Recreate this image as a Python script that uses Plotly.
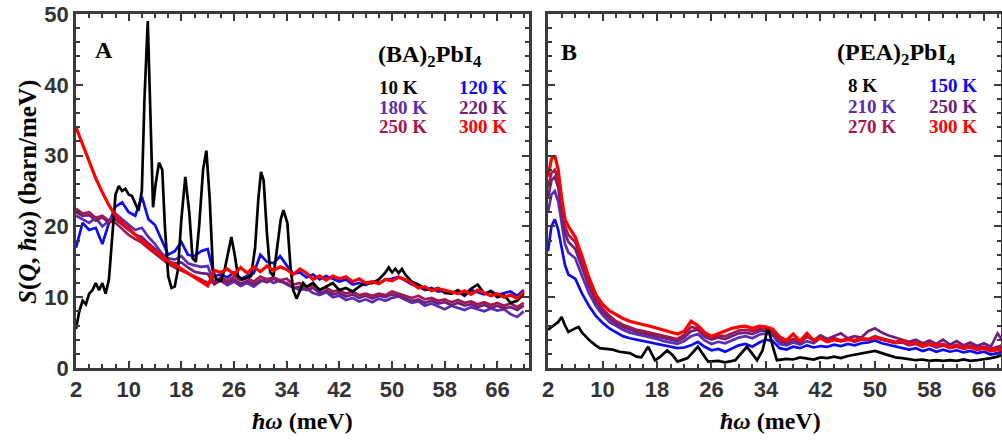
import plotly.graph_objects as go

# ---------------- Panel A: (BA)2PbI4 ----------------
xA = list(range(2, 71))

# 10 K has sharp peaks -> its own (non-uniform) energy grid
xA_10K = [2, 2.5, 3, 3.5, 4, 4.5, 5, 5.5, 6, 6.5, 7, 7.5, 8, 8.5, 9, 9.5, 10, 10.5, 11, 11.5,
          12, 12.4, 12.9, 13.3, 13.7, 14.1, 14.6, 15.1, 15.5, 16, 16.5, 17, 17.5, 18, 18.6,
          19.2, 19.7, 20.2, 20.7, 21.3, 21.8, 22.3, 22.8, 23.3, 24, 24.6, 25.2, 25.6, 26.1,
          26.6, 27.2, 28, 28.6, 29.2, 29.7, 30.1, 30.5, 31, 31.5, 32, 32.6, 33.1, 33.5, 34.1,
          34.6, 35, 35.5, 36.5, 37, 38, 39, 40, 41, 42, 43, 44, 45, 46, 47, 48, 49, 49.5, 50,
          50.5, 51, 51.5, 52, 53, 54, 55, 56, 57, 58, 59, 60, 61, 62, 63, 64, 65, 66, 67, 68,
          69, 70]
A_10K = [5.5, 8, 9.5, 9, 10.5, 11, 12, 11, 12, 10.5, 12.5, 19, 24.5, 25.7, 25, 25.3, 24.5, 24.3,
         23.2, 22.2, 25, 38, 49, 36, 22.7, 26, 29, 28, 20, 13, 11.3, 11.5, 14, 21, 27, 22, 15.5,
         15, 20, 28, 30.7, 24, 13.8, 12.5, 12.3, 14, 16.8, 18.5, 16, 13, 12.5, 12.8, 13, 17, 24,
         27.7, 26.5, 19, 13.5, 13, 17, 21, 22.3, 20.5, 14, 11, 9.8, 12, 11.5, 12, 11, 11.5, 12,
         11, 11.3, 10.8, 11.5, 12, 12, 12.5, 13.5, 14.2, 13.5, 14, 13.4, 14, 13.2, 12.2, 11.8,
         11.2, 11, 11.3, 10.6, 10.5, 11, 10.3, 11.2, 11.8, 10.5, 10.8, 10, 10.3, 9.2, 9.5, 10.5]

A_120K = [17, 20.5, 19.5, 19.8, 17.5, 20.5, 22.8, 23.4, 22, 21.5, 24.2, 21, 20.2, 18, 16, 16.5,
          17.8, 16, 15.8, 16.5, 16.8, 13, 13.2, 12.8, 13.5, 12.6, 13, 13.4, 16, 15, 14.8, 15.8,
          14.5, 13.3, 13.5, 12.8, 13.2, 12.5, 13, 12.6, 12.2, 12.5, 11.8, 12, 11.7, 12.2, 12,
          12.5, 12.6, 12.9, 12.4, 11.8, 11.5, 11, 11.3, 10.8, 11, 10.5, 10.8, 10.2, 11, 10.7,
          10.4, 10.9, 10.3, 10.6, 10.8, 10.2, 11]
A_180K = [21.5, 21, 20.5, 21.2, 20, 20.8, 21.8, 21, 20.3, 19.5, 19.8, 18.5, 17.5, 16.2, 15.5,
          15.3, 15.8, 14.8, 14.5, 14.3, 14.4, 12, 12.3, 11.7, 12.2, 11.6, 12, 11.5, 12.2, 12.6,
          12, 12.4, 11.8, 11.4, 11, 11.2, 10.6, 10.3, 10.7, 10, 10.2, 9.6, 9.9, 9.4, 9.7, 9.3,
          9.8, 9.5, 9.9, 10.1, 9.6, 9.2, 9.4, 8.8, 9.1, 8.7, 8.3, 8.8, 8.5, 8.2, 8.6, 8.3, 8.0,
          8.4, 8.1, 8.3, 7.6, 7.2, 8]
A_220K = [22, 21.5, 21.6, 20.8, 21.3, 20.5, 21, 20.2, 19.5, 18.8, 18.5, 17.6, 16.8, 15.8, 15,
          14.8, 14.9, 14.2, 13.6, 13.4, 13.3, 11.8, 12.4, 12, 12.5, 11.9, 12.3, 11.8, 12.4, 12.1,
          12.6, 12.2, 12, 11.3, 11.5, 11, 11.3, 10.6, 10.9, 10.4, 10.6, 10.1, 10.4, 9.9, 10.2,
          9.8, 10.2, 10, 10.4, 10.2, 9.8, 9.5, 9.7, 9.2, 9.5, 9.1, 9.3, 8.9, 9.2, 8.8, 9.0, 8.6,
          8.9, 8.5, 8.8, 8.4, 8.6, 8.2, 8.8]
A_250K = [22.5, 21.8, 22, 21.2, 21.5, 20.8, 20.5, 19.6, 18.8, 18.2, 17.7, 16.9, 16.2, 15.4, 14.7,
          14.2, 13.8, 13.3, 12.9, 12.5, 12, 12.2, 12.8, 12.3, 12.9, 12.4, 12.7, 12.2, 12.9, 12.5,
          12.8, 12.4, 12.6, 11.8, 12, 11.4, 11.7, 11.1, 11.3, 10.8, 11, 10.5, 10.8, 10.3, 10.5,
          10.2, 10.5, 10.3, 10.8, 10.5, 10.2, 9.9, 10.2, 9.7, 9.9, 9.5, 9.7, 9.3, 9.6, 9.2, 9.4,
          9.0, 9.3, 8.9, 9.2, 8.8, 9.1, 8.6, 9.2]
A_300K = [34, 31.5, 29, 26.8, 24.8, 23, 21.5, 20.5, 19.8, 18.8, 18, 17.2, 16.5, 15.8, 15.1, 14.6,
          14, 13.4, 12.8, 12.3, 11.6, 13.8, 13.5, 14, 13.2, 14.2, 13.4, 14.3, 13.6, 14.4, 13.8,
          14.3, 13.9, 13.2, 14, 13.4, 12.5, 13, 12.4, 13, 12.6, 12.9, 12.2, 12.6, 12, 12.2, 11.9,
          12.5, 12.3, 12.8, 12.5, 12, 11.3, 11.5, 10.9, 11.2, 11, 10.7, 10.5, 10.9, 10.4, 11,
          10.6, 10.2, 10.5, 10, 10.3, 9.8, 10.8]

# ---------------- Panel B: (PEA)2PbI4 ----------------
xB = [2, 2.5, 3, 3.5, 4, 4.5] + list(range(5, 70))

xB_8K = [2, 2.5, 3, 3.5, 4, 4.5, 5, 5.5, 6, 6.5, 7, 7.5, 8, 9, 9.6, 10.5, 11.5, 12.5, 13.5, 14,
         15, 15.7, 16.7, 17.7, 18.5, 19.5, 20.3, 21, 22.5, 23.5, 24, 24.7, 25.5, 27, 28, 29.5,
         30.5, 31.2, 32, 32.7, 33.5, 34.3, 35, 35.6, 37, 38, 39, 40, 41, 42, 43, 44, 45, 46, 47,
         48, 49, 50, 51, 52, 53, 54, 55, 56, 57, 58, 59, 60, 61, 62, 63, 64, 65, 66, 67, 68, 69]
B_8K = [5.4, 5.8, 6.2, 6.5, 7.2, 6, 5.1, 5.4, 5.6, 5.8, 5, 4.5, 4, 3.2, 2.8, 2.7, 2.6, 2.3, 2.2,
        2.1, 1.6, 1.5, 3, 1.1, 1.6, 2.5, 1.8, 0.9, 1.4, 2.4, 3, 2, 0.9, 1, 0.8, 1.1, 2.2, 3, 2,
        1.1, 2.5, 5.8, 3, 1.1, 1.3, 1.2, 1.5, 1.3, 1.2, 1.5, 1.4, 1.6, 1.4, 1.7, 1.9, 2.1, 2.2,
        2.4, 2.1, 1.8, 1.5, 1.4, 1.2, 1.1, 1.2, 1, 1.1, 1, 1.1, 1, 1.2, 1, 1.1, 1.2, 1.4, 1.6, 2]
B_150K = [16.5, 20, 21, 19.5, 17, 14.5, 13.2, 12.6, 10.5, 8.8, 7.4, 6.4, 5.6, 5, 4.5, 4.2, 4,
          3.8, 3.6, 3.4, 3.1, 3, 2.8, 2.9, 3.2, 3.7, 3, 2.5, 2.7, 2.3, 2.8, 3.2, 3.4, 3, 3.6, 4,
          3.8, 2.8, 2.6, 3, 2.8, 3.2, 2.9, 3.1, 3, 3.3, 3.1, 3.4, 3.2, 3.5, 3.6, 3.9, 3.5, 3.3,
          3, 2.9, 2.6, 2.8, 2.4, 2.7, 2.3, 2.6, 2.3, 2.5, 2.2, 2.4, 2.1, 2.3, 1.9, 2.1, 2.4]
B_210K = [22, 24.5, 25, 23.5, 20.5, 17.5, 16.3, 15.5, 13, 10.6, 8.8, 7.5, 6.5, 5.9, 5.4, 5, 4.8,
          4.6, 4.4, 4.1, 3.8, 3.6, 3.4, 3.8, 4.5, 4.8, 3.9, 3.4, 3.7, 3.5, 3.9, 4.3, 4.5, 4.2,
          4.7, 4.9, 4.6, 3.4, 3.2, 3.6, 3.3, 3.8, 3.5, 4.2, 3.7, 4, 3.8, 4.1, 3.7, 4, 3.9, 4.3, 4,
          3.7, 3.5, 3.6, 3.2, 3.4, 3, 3.3, 2.9, 3.2, 2.8, 3, 2.7, 2.9, 2.6, 2.8, 2.5, 2.7, 3]
B_250K = [24, 26.5, 27, 25.5, 22, 19, 17.8, 16.8, 14.2, 11.5, 9.4, 8, 7, 6.3, 5.8, 5.4, 5.1, 4.9,
          4.7, 4.5, 4.2, 4, 3.8, 4.3, 5.2, 5.4, 4.4, 4, 4.3, 4.1, 4.5, 4.9, 5, 4.8, 5.2, 5.3, 5,
          3.8, 3.5, 4, 3.6, 4.4, 3.9, 4.6, 4.1, 4.5, 4.9, 4.2, 4.5, 4.3, 5.2, 5.6, 5, 4.6, 4.3,
          4.1, 3.7, 4, 3.5, 3.9, 3.4, 4, 3.3, 3.8, 3.2, 3.6, 3.1, 3.5, 3, 4.9, 3.5]
B_270K = [25.5, 27.5, 28, 26.5, 23, 20, 18.8, 17.8, 15, 12, 9.8, 8.4, 7.4, 6.6, 6.1, 5.7, 5.4,
          5.2, 5, 4.8, 4.6, 4.3, 4.1, 4.7, 5.8, 5.6, 4.7, 4.3, 4.6, 4.5, 4.9, 5.3, 5.4, 5.2, 5.5,
          5.6, 5.3, 4, 3.7, 4.1, 3.8, 4.5, 3.9, 4.3, 3.9, 4.2, 3.9, 4.1, 3.9, 4.2, 4.1, 4.5, 4.2,
          4, 3.7, 3.9, 3.4, 3.6, 3.3, 3.5, 3.1, 3.4, 3, 3.3, 2.9, 3.2, 2.8, 3, 2.7, 3, 3.3]
B_300K = [27, 29.5, 30, 28, 24, 21, 20, 18.5, 15.8, 12.8, 10.4, 9, 8.1, 7.5, 7, 6.6, 6.3, 6.1,
          5.9, 5.6, 5.3, 5, 4.8, 5.2, 6.6, 6, 5, 4.5, 4.9, 5.2, 5.6, 5.8, 5.9, 5.6, 5.9, 5.8, 5.5,
          4.4, 3.9, 4.8, 3.8, 4.9, 3.9, 4.2, 3.7, 4, 3.8, 4, 3.9, 4.1, 4, 4.3, 4.1, 3.9, 3.6, 3.8,
          3.4, 3.5, 3.1, 3.4, 3.2, 3.3, 2.9, 3.1, 2.8, 3, 2.6, 2.8, 2.4, 2.6, 2.5]

x_ticks = [2, 10, 18, 26, 34, 42, 50, 58, 66]
y_ticks = [0, 10, 20, 30, 40, 50]

labels_A = ["10 K", "120 K", "180 K", "220 K", "250 K", "300 K"]
labels_B = ["8 K", "150 K", "210 K", "250 K", "270 K", "300 K"]
colors = ["#000000", "#0a0af5", "#5a2db4", "#6e1f7c", "#a3174f", "#ff0000"]

# ---------------- figure ----------------
W, H = 1002, 440
fig = go.Figure()

seriesA = [(xA_10K, A_10K), (xA, A_120K), (xA, A_180K), (xA, A_220K), (xA, A_250K), (xA, A_300K)]
seriesB = [(xB_8K, B_8K), (xB, B_150K), (xB, B_210K), (xB, B_250K), (xB, B_270K), (xB, B_300K)]
draw_order = [1, 2, 3, 4, 0, 5]

for i in draw_order:
    xs, ys = seriesA[i]
    fig.add_trace(go.Scatter(x=xs, y=ys, mode="lines", name=labels_A[i], xaxis="x", yaxis="y",
                             line=dict(color=colors[i], width=3.2 if i == 5 else 2.7),
                             showlegend=False))
for i in draw_order:
    xs, ys = seriesB[i]
    fig.add_trace(go.Scatter(x=xs, y=ys, mode="lines", name=labels_B[i], xaxis="x2", yaxis="y2",
                             line=dict(color=colors[i], width=3.2 if i == 5 else 2.7),
                             showlegend=False))

frame = "#3a3a3a"
tickfont = dict(family="Liberation Sans, Arial", size=22, color="#333333", weight="bold")

def xax(domain, rng, anchor):
    return dict(domain=domain, range=rng, anchor=anchor, tickmode="array", tickvals=x_ticks,
                ticktext=[str(v) for v in x_ticks],
                ticks="inside", ticklen=7, tickwidth=2, tickcolor=frame,
                minor=dict(ticks="inside", ticklen=4, tickwidth=1.5, dtick=2, tick0=2, tickcolor=frame),
                showline=True, linecolor=frame, linewidth=2.5, mirror="allticks",
                showgrid=False, zeroline=False, tickfont=tickfont, automargin=False)

def yax(domain, anchor, labels):
    return dict(domain=domain, range=[0, 50], anchor=anchor, tickmode="array", tickvals=y_ticks,
                ticks="inside", ticklen=7, tickwidth=2, tickcolor=frame,
                minor=dict(ticks="inside", ticklen=4, tickwidth=1.5, dtick=2, tick0=0, tickcolor=frame),
                showline=True, linecolor=frame, linewidth=2.5, mirror="allticks",
                showgrid=False, zeroline=False, showticklabels=labels, tickfont=tickfont,
                automargin=False)

ydom = [(H - 368) / H, (H - 14) / H]
fig.update_layout(
    width=W, height=H, margin=dict(l=0, r=0, t=0, b=0, autoexpand=False),
    paper_bgcolor="white", plot_bgcolor="white",
    xaxis=xax([76 / W, 529 / W], [2, 70.8], "y"),
    yaxis=yax(ydom, "x", True),
    xaxis2=xax([548 / W, 1001 / W], [2, 68.5], "y2"),
    yaxis2=yax(ydom, "x2", False),
)

serif = "Liberation Serif, Times New Roman, serif"

def ann(px, py, text, size, color="#000000", xanchor="center", angle=0):
    fig.add_annotation(x=px / W, y=1 - py / H, xref="paper", yref="paper", text=text,
                       showarrow=False, xanchor=xanchor, yanchor="middle", textangle=angle,
                       borderpad=0, font=dict(family=serif, size=size, color=color))

# axis titles
ann(28, 192, "<b><i>S</i>(<i>Q</i>, <i>ħω</i>) (barn/meV)</b>", 25, angle=-90)
ann(302, 421, "<b><i>ħω</i> (meV)</b>", 24)
ann(770, 421, "<b><i>ħω</i> (meV)</b>", 24)

# panel labels and compound names
ann(104, 50, "<b>A</b>", 24)
ann(569, 52, "<b>B</b>", 24)
ann(377, 56, "<b>(BA)<sub>2</sub>PbI<sub>4</sub></b>", 24, xanchor="left")
ann(836, 54, "<b>(PEA)<sub>2</sub>PbI<sub>4</sub></b>", 24, xanchor="left")

# temperature keys
rowsA = [87, 107, 127]
rowsB = [86, 106, 126]
for k in range(6):
    r, c = k // 2, k % 2
    ann([378, 458][c], rowsA[r], "<b>%s</b>" % labels_A[k], 19, color=colors[k], xanchor="left")
    ann([847, 928][c], rowsB[r], "<b>%s</b>" % labels_B[k], 19, color=colors[k], xanchor="left")

fig.write_html("out.html")
